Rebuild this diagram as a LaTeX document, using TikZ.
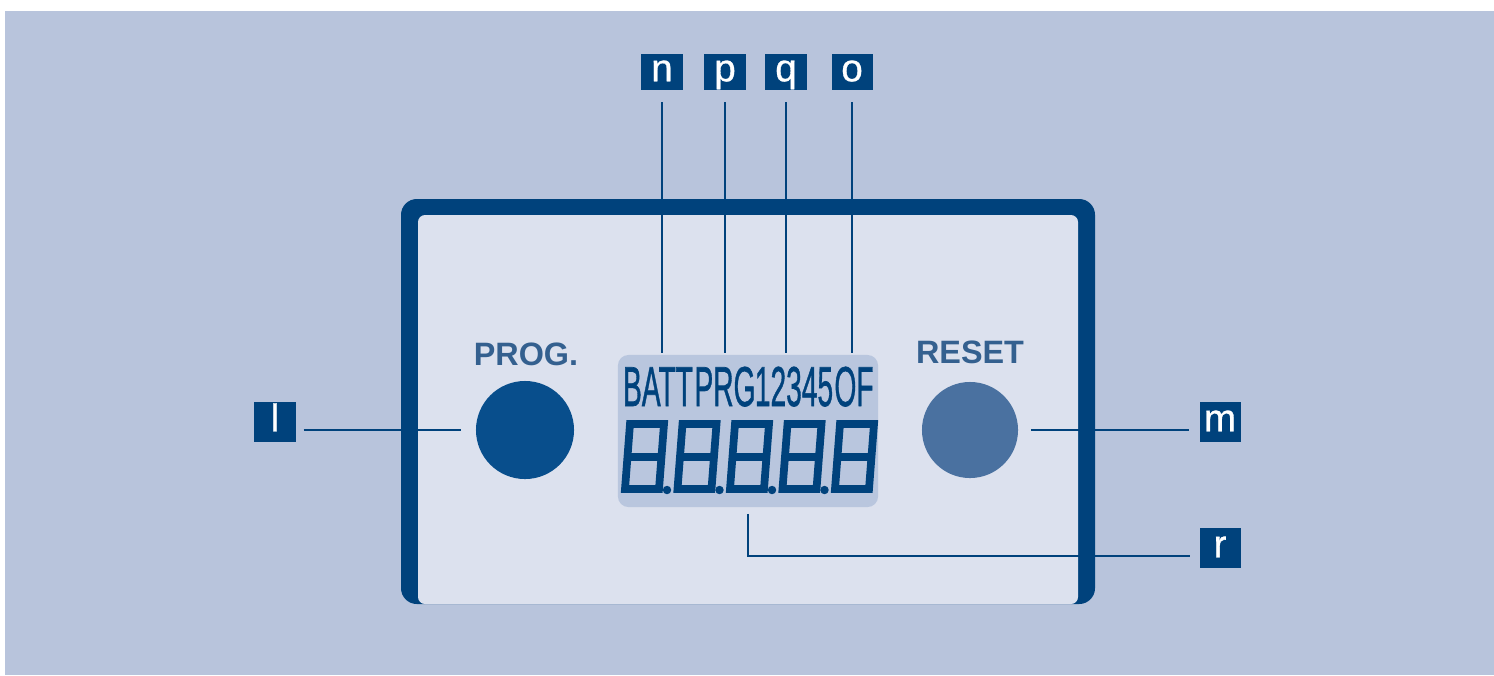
\documentclass[tikz,border=0pt]{standalone}
\usepackage{fontspec}
\setmainfont{Liberation Sans}
\newfontfamily\tagfont[FakeBold=0.8]{Liberation Sans}
\newfontfamily\lcdfont[FakeBold=1.2]{Liberation Sans}
\usepackage{graphicx}
\usepackage{tikz}
\usetikzlibrary{arrows.meta, positioning, calc}
\definecolor{dispblue}{HTML}{00427C}
\definecolor{dispbtn}{HTML}{084E8C}
\definecolor{dispmid}{HTML}{4A71A0}
\definecolor{disptext}{HTML}{34608F}
\definecolor{dispbg}{HTML}{B8C4DC}
\definecolor{disppanel}{HTML}{DCE1EE}
\definecolor{displcd}{HTML}{B9C6DE}
\tikzset{
  tag/.style={fill=dispblue, text=white, font=\tagfont\fontsize{11}{11}\selectfont,
    minimum width=0.41cm, minimum height=0.40cm, inner sep=0pt, text height=1ex, text depth=0pt},
  lead/.style={draw=dispblue, line width=0.8pt},
  seg/.style={draw=dispblue, line width=2.2pt, line join=miter},
  lcdtext/.style={font=\lcdfont\fontsize{16}{16}\selectfont, text=dispblue, inner sep=0pt, anchor=base},
  btnlbl/.style={font=\fontsize{9.2}{9}\selectfont\bfseries, text=disptext, inner sep=0pt, anchor=base},
}

\begin{document}
\begin{tikzpicture}[x=0.01cm, y=-0.01cm]
  \useasboundingbox (0,0) rectangle (1494,675);
  \fill[dispbg] (5,11) rectangle (1494,675);
  % housing
  \fill[dispblue, rounded corners=4.5pt] (401,199) rectangle (1095,604);
  \fill[disppanel, rounded corners=2pt] (418,215) rectangle (1078,604);
  % lcd window
  \node[fill=displcd, rounded corners=3pt, minimum width=2.60cm, minimum height=1.52cm, inner sep=0pt] (lcd) at (748,431) {};
  \node[lcdtext] (batt) at (658,406) {\scalebox{0.5}[1]{BATT}};
  \node[lcdtext] (prg) at (725,406) {\scalebox{0.5}[1]{PRG}};
  \node[lcdtext] (cyc) at (794,406) {\scalebox{0.5}[1]{12345}};
  \node[lcdtext] (of) at (854,406) {\scalebox{0.5}[1]{OF}};
  \foreach \i in {0,...,4}{
    \draw[seg] ({625+\i*52.5},489) -- ({659+\i*52.5},489) -- ({664+\i*52.5},424) -- ({630+\i*52.5},424) -- cycle;
    \draw[seg] ({627+\i*52.5},457) -- ({661+\i*52.5},457);
  }
  \foreach \i in {0,...,3}
    \fill[dispblue] ({667+\i*52.5},490) circle[radius=1.2pt];
  % buttons
  \node[circle, fill=dispbtn, minimum size=0.98cm, inner sep=0pt] (progbtn) at (525,430) {};
  \node[circle, fill=dispmid, minimum size=0.96cm, inner sep=0pt] (resetbtn) at (970,430) {};
  \node[btnlbl] (proglbl) at (526,365) {PROG.};
  \node[btnlbl] (resetlbl) at (970,363) {RESET};
  % tags
  \node[tag, minimum height=0.35cm] (n) at (662,72) {n};
  \node[tag, minimum height=0.35cm] (p) at (725,72) {p};
  \node[tag, minimum height=0.35cm] (q) at (786,72) {q};
  \node[tag, minimum height=0.35cm] (o) at (852,72) {o};
  \node[tag] (l) at (275,422) {l};
  \node[tag] (m) at (1220,422) {m};
  \node[tag] (r) at (1220,548) {r};
  % leads
  \foreach \t in {n,p,q,o}
    \draw[lead, shorten <=0.12cm, shorten >=0.01cm] (\t.south) -- (\t.south |- lcd.north);
  \draw[lead, shorten <=0.075cm, shorten >=0.14cm] (progbtn -| l.east) -- (progbtn.west);
  \draw[lead, shorten <=0.12cm, shorten >=0.095cm] (resetbtn.east) -- (resetbtn -| m.west);
  \draw[lead, shorten <=0.06cm, shorten >=0.09cm] (lcd.south) |- ([yshift=-0.08cm]r.west);
\end{tikzpicture}
\end{document}
